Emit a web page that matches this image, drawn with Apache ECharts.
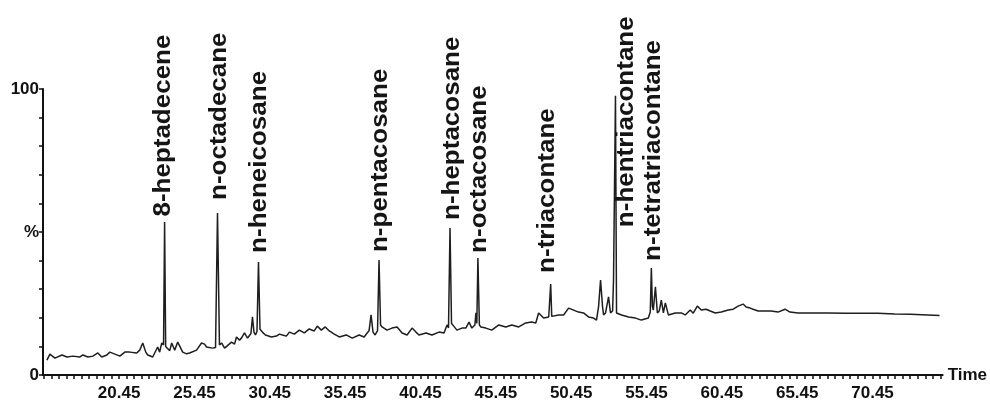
<!DOCTYPE html>
<html>
<head>
<meta charset="utf-8">
<style>
html,body{margin:0;padding:0;background:#fff;}
#chart{width:990px;height:402px;}
</style>
<script src="https://cdn.jsdelivr.net/npm/echarts@6.0.0/dist/echarts.min.js"></script>
</head>
<body>
<div id="chart"></div>
<script>
// Retention time (min) of each sampled point of the chromatogram trace
var traceTime = [
15.66,15.86,16.19,16.66,16.99,17.39,17.85,18.05,18.38,18.71,19.04,19.30,19.64,19.83,20.17,20.50,20.83,
21.16,21.62,21.82,22.02,22.22,22.35,22.68,23.01,23.14,23.28,23.40,23.47,23.54,23.67,23.81,23.94,24.14,24.34,
24.67,24.93,25.13,25.59,25.92,26.12,26.25,26.65,26.85,26.98,27.11,27.25,27.45,27.58,27.91,28.11,28.24,28.44,
28.57,28.77,28.97,29.10,29.20,29.30,29.40,29.50,29.60,29.70,29.80,29.96,30.16,30.29,30.56,30.89,31.09,31.29,
31.55,31.75,32.08,32.41,32.74,33.07,33.40,33.60,33.87,34.13,34.40,34.73,35.06,35.52,35.92,36.38,36.71,36.91,
37.04,37.17,37.30,37.44,37.60,37.70,37.80,37.90,38.23,38.56,38.90,39.23,39.56,39.89,40.15,40.35,40.82,41.21,
41.68,42.01,42.21,42.31,42.41,42.51,42.67,42.87,43.20,43.46,43.67,43.86,44.06,44.13,44.19,44.26,44.36,44.46,
44.79,45.18,45.65,46.11,46.51,46.97,47.43,47.83,48.10,48.29,48.62,48.96,49.02,49.09,49.16,49.29,49.62,49.95,
50.28,50.61,50.94,51.27,51.60,51.93,52.13,52.27,52.40,52.53,52.60,52.73,52.93,53.06,53.20,53.26,53.39,53.46,
53.79,54.26,54.72,55.11,55.57,55.70,55.77,55.84,55.90,56.04,56.17,56.30,56.43,56.57,56.70,56.90,57.36,57.76,
58.02,58.35,58.55,58.82,59.08,59.41,59.68,60.01,60.41,60.87,61.20,61.53,61.86,62.06,62.33,62.52,62.86,63.32,
63.72,64.18,64.64,64.97,65.50,66.36,67.49,68.61,69.67,70.80,71.92,72.98,74.11,74.90
];
// Relative abundance (%) at each sampled time
var tracePct = [
5.2,7.3,5.9,7.0,6.3,6.6,6.3,7.0,6.3,6.6,7.7,6.3,7.0,8.0,7.3,6.6,8.0,
8.0,7.7,8.7,11.2,8.0,7.0,6.3,9.8,8.0,11.2,10.5,53.5,10.0,9.8,8.5,11.2,8.7,11.5,
8.0,7.4,7.7,8.7,11.2,10.8,9.8,9.4,9.6,56.6,10.5,11.2,9.4,9.8,11.5,10.8,13.3,12.2,
12.9,14.7,12.9,13.3,14.5,20.3,15.0,14.0,15.2,39.5,16.0,15.0,14.0,14.0,13.3,13.6,14.3,14.0,
13.6,15.0,14.3,15.7,14.7,16.1,15.4,17.1,15.7,16.8,15.4,14.3,13.3,14.0,12.9,14.0,13.3,14.7,
15.5,21.0,15.0,14.0,15.5,40.2,17.5,16.8,15.7,16.4,16.8,14.7,14.0,16.4,15.0,14.0,14.7,14.0,
15.0,14.7,17.5,16.5,51.4,18.0,17.0,15.7,16.4,16.4,18.5,16.4,17.5,21.7,18.0,40.9,17.5,16.8,
16.4,15.7,17.5,16.8,17.5,16.8,18.2,18.5,18.2,21.7,19.9,20.3,20.0,31.8,20.5,19.9,21.0,21.0,
23.4,22.7,22.0,21.7,20.3,19.9,19.2,24.0,33.2,24.0,21.0,21.7,27.3,21.7,22.5,33.2,97.6,21.7,
21.0,20.3,19.9,19.2,19.9,22.0,37.4,24.0,22.7,30.8,21.7,22.5,26.2,21.7,25.2,21.0,21.7,21.7,
21.0,22.7,21.6,24.1,22.7,23.0,22.4,21.7,22.0,22.7,23.0,24.1,24.8,23.8,23.4,23.0,22.4,22.4,
22.4,22.0,23.0,22.0,21.7,21.7,21.7,21.6,21.6,21.6,21.3,21.2,21.0,20.8
];

// Peak annotations
var peakNames = ['8-heptadecene','n-octadecane','n-heneicosane','n-pentacosane','n-heptacosane',
                 'n-octacosane','n-triacontane','n-hentriacontane','n-tetratriacontane'];
var labelTime = [23.41, 27.11, 29.76, 37.84, 42.60, 44.39, 48.89, 54.10, 55.93];
var labelPct  = [55.4, 61.2, 42.7, 43.0, 54.2, 42.7, 35.7, 51.7, 39.9];

// Axis labelling
var xTickLabels = [20.45, 25.45, 30.45, 35.45, 40.45, 45.45, 50.45, 55.45, 60.45, 65.45, 70.45];
var xMinorStep = 0.5;
var xMin = 15.4, xMax = 75.1;
var xName = 'Time';
var yLabelText = {0: '0', 50: '%', 100: '100'};

var xTicks = [];
for (var v = 15.45; v < xMax; v += xMinorStep) { xTicks.push(Math.round(v * 100) / 100); }

var traceData = traceTime.map(function (t, i) { return [t, tracePct[i]]; });
var labelData = labelTime.map(function (t, i) { return [t, labelPct[i], i]; });

var FONT = '"Liberation Sans", Arial, Helvetica, sans-serif';

var chart = echarts.init(document.getElementById('chart'), null, {renderer: 'canvas'});
chart.setOption({
  animation: false,
  backgroundColor: '#ffffff',
  grid: {left: 43, right: 45, top: 89, bottom: 27, containLabel: false},
  xAxis: {
    type: 'value', min: xMin, max: xMax,
    name: xName, nameLocation: 'end', nameGap: 5,
    nameTextStyle: {fontFamily: FONT, fontWeight: 'bold', fontSize: 17, color: '#111', padding: [12, 0, 0, 0]},
    axisLine: {show: true, onZero: false, lineStyle: {color: '#111', width: 2}},
    axisTick: {show: true, inside: false, length: 4, lineStyle: {color: '#111', width: 1.5}, customValues: xTicks},
    axisLabel: {show: true, margin: 10, fontFamily: FONT, fontWeight: 'bold', fontSize: 17, color: '#111',
      customValues: xTickLabels, formatter: function (v) { return v.toFixed(2); }},
    splitLine: {show: false}
  },
  yAxis: {
    type: 'value', min: 0, max: 100, interval: 10,
    axisLine: {show: true, onZero: false, lineStyle: {color: '#111', width: 2}},
    axisTick: {show: true, inside: false, length: 4, lineStyle: {color: '#111', width: 1.5}},
    axisLabel: {show: true, margin: 4, fontFamily: FONT, fontWeight: 'bold', fontSize: 17, color: '#111',
      formatter: function (v) { return yLabelText[v] !== undefined ? yLabelText[v] : ''; }},
    splitLine: {show: false}
  },
  series: [
    {
      type: 'line', data: traceData, showSymbol: false, symbol: 'none',
      lineStyle: {color: '#1e1e1e', width: 1.5}, z: 2
    },
    {
      type: 'custom', data: labelData, clip: false, z: 3,
      renderItem: function (params, api) {
        var p = api.coord([api.value(0), api.value(1)]);
        return {
          type: 'text', x: p[0], y: p[1], rotation: Math.PI / 2, scaleX: 1.13,
          style: {text: peakNames[params.dataIndex], font: 'bold 23px ' + FONT, fill: '#151515',
                  align: 'left', verticalAlign: 'middle'}
        };
      }
    }
  ]
});
</script>
</body>
</html>
